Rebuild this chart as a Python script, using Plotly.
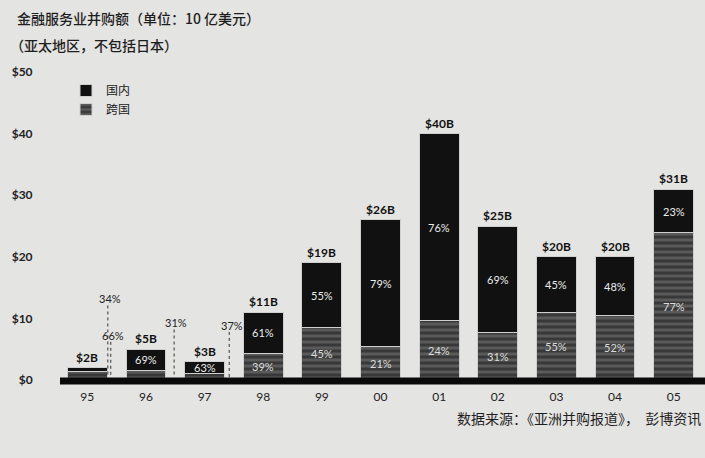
import plotly.graph_objects as go

years = ["95", "96", "97", "98", "99", "00", "01", "02", "03", "04", "05"]
totals = [2, 5, 3, 11, 19, 26, 40, 25, 20, 20, 31]
domestic_pct = [34, 69, 63, 61, 55, 79, 76, 69, 45, 48, 23]
cross_pct = [66, 31, 37, 39, 45, 21, 24, 31, 55, 52, 77]
total_labels = ["$2B", "$5B", "$3B", "$11B", "$19B", "$26B", "$40B", "$25B", "$20B", "$20B", "$31B"]
y_ticks = [0, 10, 20, 30, 40, 50]
y_tick_text = ["$0", "$10", "$20", "$30", "$40", "$50"]

domestic = [t * p / 100 for t, p in zip(totals, domestic_pct)]
cross = [t * p / 100 for t, p in zip(totals, cross_pct)]

W, H = 705, 458
L, R, T, B = 58, 2, 72, 78
PW, PH = W - L - R, H - T - B


def px(x):
    return (x - L) / PW


def py(y):
    return (H - B - y) / PH


BG = "#e4e4e2"
FONT = "Lato, DejaVu Sans, sans-serif"
CJK = "Noto Sans CJK SC"

fig = go.Figure()
fig.add_trace(go.Bar(
    x=years, y=cross, name="跨国",
    marker=dict(color="#4a4a4a", line=dict(color="#cfcfcf", width=1),
                pattern=dict(shape="-", fgcolor="#151515", bgcolor="#5a5a5a",
                             size=6, solidity=0.5)),
    hoverinfo="skip",
))
fig.add_trace(go.Bar(
    x=years, y=domestic, name="国内",
    marker=dict(color="#111111", line=dict(color="#cfcfcf", width=1)),
    hoverinfo="skip",
))

ann = []
shapes = []

# callouts for small segments (index, which, x offset, y position)
callouts = [
    (0, "d", 0.39, 13.2),
    (0, "c", 0.44, 7.3),
    (1, "c", 0.52, 9.3),
    (2, "c", 0.46, 8.9),
]
outside = {(c[0], c[1]) for c in callouts}

for i, yr in enumerate(years):
    ann.append(dict(x=i, y=totals[i], text="<b>%s</b>" % total_labels[i],
                    xref="x", yref="y", showarrow=False, yanchor="bottom",
                    yshift=1, font=dict(family=FONT, size=12, color="#111")))
    if (i, "d") not in outside:
        ann.append(dict(x=i, y=cross[i] + domestic[i] / 2, text="%d%%" % domestic_pct[i],
                        xref="x", yref="y", showarrow=False,
                        font=dict(family=FONT, size=11, color="#ececec")))
    if (i, "c") not in outside:
        ann.append(dict(x=i, y=cross[i] / 2, text="%d%%" % cross_pct[i],
                        xref="x", yref="y", showarrow=False,
                        font=dict(family=FONT, size=11, color="#dcdcdc")))

for i, w, dx, yy in callouts:
    pct = domestic_pct[i] if w == "d" else cross_pct[i]
    ann.append(dict(x=i + dx, y=yy, text="%d%%" % pct, xref="x", yref="y",
                    showarrow=False, font=dict(family=FONT, size=11, color="#222")))
    shapes.append(dict(type="line", xref="x", yref="y", x0=i + dx - 0.04, x1=i + dx - 0.04,
                       y0=yy - 1.1, y1=0.4,
                       line=dict(color="#333", width=1, dash="dot")))

# thick baseline
shapes.append(dict(type="line", xref="paper", yref="paper", x0=px(60), x1=px(706),
                   y0=py(381), y1=py(381),
                   line=dict(color="#0a0a0a", width=7), layer="above"))

ann += [
    dict(x=px(15), y=py(18), xref="paper", yref="paper", xanchor="left", yanchor="middle",
         text="金融服务业并购额（单位：10 亿美元）", showarrow=False,
         font=dict(family=CJK, size=14, color="#1e1e1e", weight=500)),
    dict(x=px(8), y=py(45), xref="paper", yref="paper", xanchor="left", yanchor="middle",
         text="（亚太地区，不包括日本）", showarrow=False,
         font=dict(family=CJK, size=14, color="#1e1e1e", weight=500)),
    dict(x=px(455), y=py(418), xref="paper", yref="paper", xanchor="left", yanchor="middle",
         text="数据来源：《亚洲并购报道》，  彭博资讯", showarrow=False,
         font=dict(family=CJK, size=14, color="#1e1e1e")),
]

fig.update_layout(
    width=W, height=H,
    margin=dict(l=L, r=R, t=T, b=B),
    paper_bgcolor=BG, plot_bgcolor=BG,
    barmode="stack", bargap=0.32,
    showlegend=True,
    legend=dict(x=px(66), y=py(76), xanchor="left", yanchor="top",
                bgcolor="rgba(0,0,0,0)", traceorder="reversed",
                font=dict(family=CJK, size=12, color="#222"),
                itemwidth=30, tracegroupgap=0),
    annotations=ann, shapes=shapes,
    xaxis=dict(type="category", range=[-0.5, 10.5], showgrid=False, zeroline=False,
               showline=False, ticks="outside", ticklen=6, tickcolor=BG,
               tickfont=dict(family=FONT, size=12, color="#222")),
    yaxis=dict(range=[0, 50], tickvals=y_ticks,
               ticktext=["<b>%s</b>" % t for t in y_tick_text], showgrid=False,
               zeroline=False, showline=False, ticks="outside", ticklen=22, tickcolor=BG,
               tickfont=dict(family=FONT, size=12, color="#222")),
)

fig.write_html("out.html")
